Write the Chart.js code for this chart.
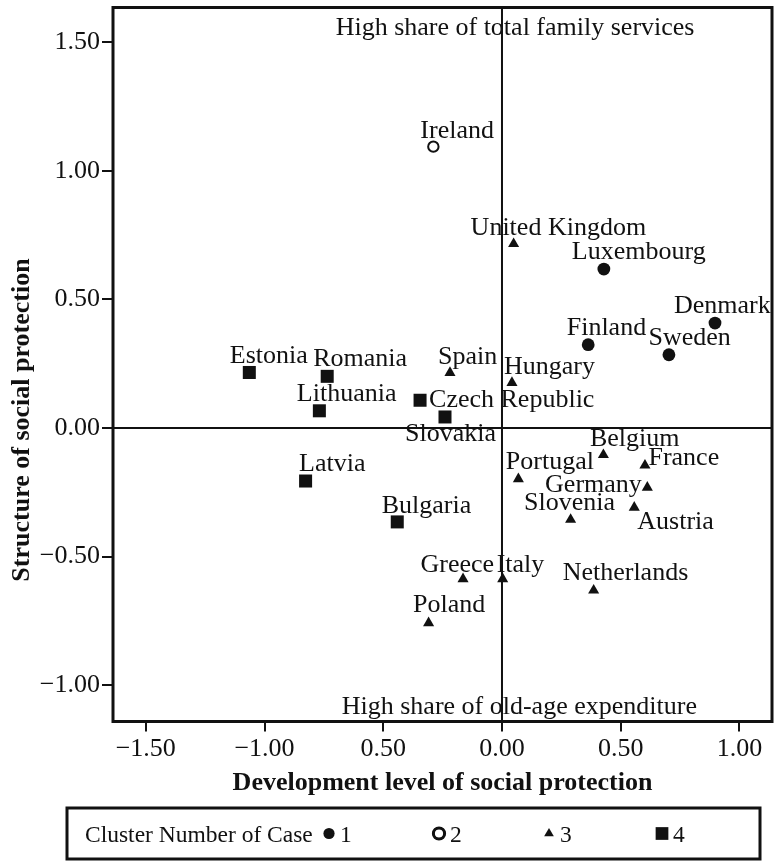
<!DOCTYPE html>
<html>
<head>
<meta charset="utf-8">
<script src="https://cdn.jsdelivr.net/npm/chart.js@4/dist/chart.umd.min.js"></script>
<style>
  html, body { margin: 0; padding: 0; background: #fff; }
  #wrap { width: 774px; height: 863px; position: relative; }
</style>
</head>
<body>
<div id="wrap"><canvas id="c" width="774" height="863"></canvas></div>
<script>
// Country scores on the two social-protection dimensions, with k-means cluster membership
const countries = ['Ireland', 'United Kingdom', 'Luxembourg', 'Denmark', 'Finland', 'Sweden',
  'Estonia', 'Romania', 'Lithuania', 'Czech Republic', 'Slovakia', 'Spain', 'Hungary',
  'Latvia', 'Bulgaria', 'Belgium', 'France', 'Portugal', 'Germany', 'Austria', 'Slovenia',
  'Greece', 'Italy', 'Netherlands', 'Poland'];
const devLevel = [-0.289, 0.049, 0.429, 0.897, 0.363, 0.703,
  -1.064, -0.736, -0.769, -0.345, -0.240, -0.219, 0.042,
  -0.827, -0.441, 0.427, 0.602, 0.069, 0.612, 0.557, 0.289,
  -0.164, 0.003, 0.386, -0.309];
const structure = [1.094, 0.716, 0.618, 0.408, 0.324, 0.285,
  0.216, 0.201, 0.067, 0.108, 0.043, 0.215, 0.176,
  -0.206, -0.365, -0.104, -0.145, -0.198, -0.231, -0.309, -0.356,
  -0.587, -0.587, -0.631, -0.758];
const cluster = [2, 3, 1, 1, 1, 1,
  4, 4, 4, 4, 4, 3, 3,
  4, 4, 3, 3, 3, 3, 3, 3,
  3, 3, 3, 3];
const clusterIds = [1, 2, 3, 4];

const xTickValues = [-1.5, -1, -0.5, 0, 0.5, 1];
const xTickLabels = ['\u22121.50', '\u22121.00', '0.50', '0.00', '0.50', '1.00'];
const yTickValues = [-1, -0.5, 0, 0.5, 1, 1.5];
const yTickLabels = ['\u22121.00', '\u22120.50', '0.00', '0.50', '1.00', '1.50'];

const xTitle = 'Development level of social protection';
const yTitle = 'Structure of social protection';
const topNote = 'High share of total family services';
const bottomNote = 'High share of old-age expenditure';
const legendTitle = 'Cluster Number of Case';

// ---- presentation ----
const SERIF = "'Liberation Serif', 'Times New Roman', serif";
const INK = '#111';

const markerStyle = {
  1: { pointStyle: 'circle',   radius: 6.4, backgroundColor: INK,    borderColor: INK, borderWidth: 0 },
  2: { pointStyle: 'circle',   radius: 5.2, backgroundColor: '#fff', borderColor: INK, borderWidth: 2 },
  3: { pointStyle: 'triangle', radius: 6.4, backgroundColor: INK,    borderColor: INK, borderWidth: 0 },
  4: { pointStyle: 'rect',     radius: 9.2, backgroundColor: INK,    borderColor: INK, borderWidth: 0 }
};

// label placement relative to the marker: [dx, dy(baseline), align]
const labelPlacement = {
  'Ireland': [-13, -8.5, 'left'],
  'United Kingdom': [-43, -9, 'left'],
  'Luxembourg': [-32, -10, 'left'],
  'Denmark': [-41, -10.5, 'left'],
  'Finland': [-21.5, -10, 'left'],
  'Sweden': [-20.5, -10, 'left'],
  'Estonia': [-19.5, -9.5, 'left'],
  'Romania': [-14, -10, 'left'],
  'Lithuania': [-22.5, -9.5, 'left'],
  'Czech Republic': [9, 7, 'left'],
  'Slovakia': [-40, 24.5, 'left'],
  'Spain': [-12, -9, 'left'],
  'Hungary': [-8, -8.5, 'left'],
  'Latvia': [-6.5, -10.5, 'left'],
  'Bulgaria': [-15.5, -9, 'left'],
  'Belgium': [-13.5, -8.5, 'left'],
  'France': [3.5, -0.5, 'left'],
  'Portugal': [-12.5, -10, 'left'],
  'Germany': [-5.5, 5, 'right'],
  'Austria': [3, 21.5, 'left'],
  'Slovenia': [-46.5, -9.5, 'left'],
  'Greece': [-42.5, -7.5, 'left'],
  'Italy': [-6, -7.5, 'left'],
  'Netherlands': [-31, -10.5, 'left'],
  'Poland': [-15.5, -10.5, 'left']
};

const datasets = clusterIds.map(id => {
  const pts = [];
  countries.forEach((name, i) => {
    if (cluster[i] === id) pts.push({ x: devLevel[i], y: structure[i], name });
  });
  const s = markerStyle[id];
  return {
    label: String(id),
    data: pts,
    pointStyle: s.pointStyle,
    pointRadius: s.radius,
    pointHoverRadius: s.radius,
    pointBackgroundColor: s.backgroundColor,
    pointBorderColor: s.borderColor,
    pointBorderWidth: s.borderWidth,
    clip: false
  };
});

// zero reference lines through the origin
const crossLines = {
  id: 'crossLines',
  beforeDatasetsDraw(chart) {
    const { ctx, chartArea: a, scales: { x, y } } = chart;
    const x0 = x.getPixelForValue(0), y0 = y.getPixelForValue(0);
    ctx.save();
    ctx.strokeStyle = INK;
    ctx.lineWidth = 2;
    ctx.beginPath();
    ctx.moveTo(x0, a.top); ctx.lineTo(x0, a.bottom);
    ctx.moveTo(a.left, y0); ctx.lineTo(a.right, y0);
    ctx.stroke();
    ctx.restore();
  }
};

// country names, quadrant notes, frame and cluster key
const annotate = {
  id: 'annotate',
  afterDatasetsDraw(chart) {
    const { ctx, chartArea: a, scales: { x, y } } = chart;
    ctx.save();
    ctx.fillStyle = INK;
    ctx.font = '26px ' + SERIF;
    ctx.textBaseline = 'alphabetic';
    chart.data.datasets.forEach((ds, di) => {
      const meta = chart.getDatasetMeta(di);
      meta.data.forEach((el, j) => {
        const name = ds.data[j].name;
        const p = labelPlacement[name] || [0, -10, 'left'];
        ctx.textAlign = p[2];
        ctx.fillText(name, el.x + p[0], el.y + p[1]);
      });
    });

    // quadrant notes
    ctx.textAlign = 'center';
    ctx.fillText(topNote, x.getPixelForValue(0.055), y.getPixelForValue(1.53));
    ctx.fillText(bottomNote, x.getPixelForValue(0.073), y.getPixelForValue(-1.113));

    // plot frame
    ctx.strokeStyle = INK;
    ctx.lineWidth = 3;
    ctx.strokeRect(a.left, a.top, a.right - a.left, a.bottom - a.top);

    // vertical axis title
    ctx.save();
    ctx.translate(22, 420);
    ctx.rotate(-Math.PI / 2);
    ctx.font = 'bold 26px ' + SERIF;
    ctx.textAlign = 'center';
    ctx.textBaseline = 'middle';
    ctx.fillText(yTitle, 0, 0);
    ctx.restore();

    // cluster key
    const box = { l: 67, t: 808, r: 760, b: 859 };
    ctx.lineWidth = 3;
    ctx.strokeRect(box.l, box.t, box.r - box.l, box.b - box.t);
    const cy = (box.t + box.b) / 2;
    ctx.font = '23.5px ' + SERIF;
    ctx.textAlign = 'left';
    ctx.fillText(legendTitle, 85, cy + 8);
    const keyX = [329, 439, 549, 662];
    chart.data.datasets.forEach((ds, di) => {
      const kx = keyX[di];
      const st = markerStyle[clusterIds[di]];
      const r = st.pointStyle === 'rect' ? 9 : 5.6;
      ctx.fillStyle = st.backgroundColor;
      ctx.strokeStyle = st.borderColor;
      Chart.helpers.drawPoint(ctx, {
        pointStyle: st.pointStyle, radius: r, borderWidth: st.borderWidth, rotation: 0
      }, kx, cy);
      if (st.borderWidth) { ctx.lineWidth = st.borderWidth; ctx.stroke(); }
      ctx.fillStyle = INK;
      ctx.fillText(ds.label, kx + 11, cy + 8);
    });
    ctx.restore();
  }
};

// keep the plot area fixed regardless of edge tick label sizes
const noEdgePadding = s => {
  s.paddingTop = 0; s.paddingBottom = 0; s.paddingLeft = 0; s.paddingRight = 0;
};

new Chart(document.getElementById('c'), {
  type: 'scatter',
  data: { datasets },
  plugins: [crossLines, annotate],
  options: {
    responsive: false,
    animation: false,
    devicePixelRatio: 1,
    layout: { autoPadding: false, padding: { top: 7.5, right: 2, left: 0, bottom: 63 } },
    plugins: { legend: { display: false }, tooltip: { enabled: false } },
    scales: {
      x: {
        type: 'linear',
        min: -1.638,
        max: 1.137,
        afterBuildTicks: s => { s.ticks = xTickValues.map(v => ({ value: v })); },
        afterFit: s => { s.height = 78.5; noEdgePadding(s); },
        ticks: {
          autoSkip: false,
          maxRotation: 0,
          padding: 2,
          color: INK,
          font: { family: SERIF, size: 26 },
          callback: (v, i) => xTickLabels[i]
        },
        grid: { drawOnChartArea: false, drawTicks: true, tickLength: 10, color: INK, lineWidth: 2 },
        border: { display: false },
        title: {
          display: true, text: xTitle, color: INK,
          font: { family: SERIF, size: 26, weight: 'bold' },
          padding: { top: 0, bottom: 1 }
        }
      },
      y: {
        type: 'linear',
        min: -1.141,
        max: 1.635,
        afterBuildTicks: s => { s.ticks = yTickValues.map(v => ({ value: v })); },
        afterFit: s => { s.width = 113; noEdgePadding(s); },
        ticks: {
          autoSkip: false,
          padding: 2,
          color: INK,
          font: { family: SERIF, size: 26 },
          callback: (v, i) => yTickLabels[i]
        },
        grid: { drawOnChartArea: false, drawTicks: true, tickLength: 11, color: INK, lineWidth: 2 },
        border: { display: false },
        title: { display: false }
      }
    }
  }
});
</script>
</body>
</html>
